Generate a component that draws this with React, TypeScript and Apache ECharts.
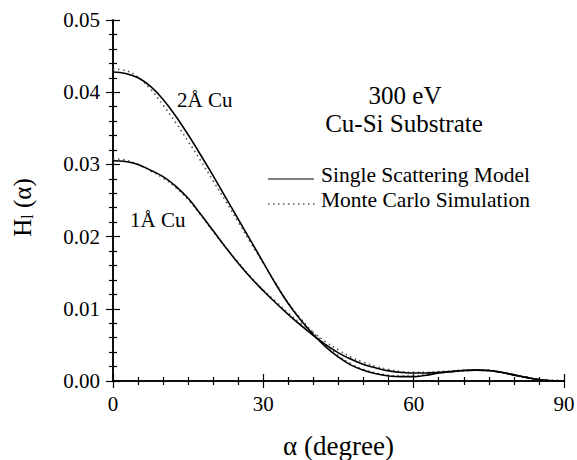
import React, { useEffect, useRef } from "react";
import * as echarts from "echarts";

const angles = [0, 2.5, 5, 7.5, 10, 12.5, 15, 17.5, 20, 22.5, 25, 27.5, 30, 32.5, 35, 37.5, 40, 42.5, 45, 47.5, 50, 52.5, 55, 57.5, 60, 62.5, 65, 67.5, 70, 72.5, 75, 77.5, 80, 82.5, 85, 87.5, 90];

const ss2 = [0.0428, 0.0426, 0.0420, 0.0408, 0.0390, 0.0367, 0.0341, 0.0313, 0.0284, 0.0254, 0.0224, 0.0194, 0.0164, 0.0134, 0.0107, 0.0084, 0.0064, 0.0047, 0.0033, 0.0022, 0.0015, 0.0010, 0.0007, 0.0006, 0.0006, 0.0008, 0.0011, 0.0013, 0.00145, 0.0015, 0.00145, 0.0012, 0.00085, 0.0005, 0.0002, 0.00004, 0];
const mc2 = [0.0432, 0.0430, 0.0421, 0.0404, 0.0382, 0.0358, 0.0332, 0.0305, 0.0277, 0.0249, 0.0220, 0.0191, 0.0163, 0.0135, 0.0108, 0.0086, 0.0067, 0.0050, 0.0035, 0.0024, 0.0016, 0.0011, 0.0008, 0.0007, 0.0007, 0.0009, 0.0011, 0.0013, 0.0014, 0.0015, 0.0014, 0.0012, 0.0008, 0.0005, 0.0002, 0.0001, 0];
const ss1 = [0.0305, 0.0304, 0.0300, 0.0292, 0.0283, 0.0270, 0.0253, 0.0231, 0.0208, 0.0185, 0.0163, 0.0143, 0.0125, 0.0108, 0.0092, 0.0077, 0.0063, 0.0050, 0.0039, 0.0030, 0.0023, 0.0018, 0.0014, 0.0012, 0.0011, 0.0011, 0.0012, 0.0013, 0.00145, 0.0015, 0.00145, 0.0012, 0.00085, 0.0005, 0.0002, 0.00004, 0];
const mc1 = [0.0308, 0.0306, 0.0300, 0.0291, 0.0281, 0.0268, 0.0251, 0.0230, 0.0207, 0.0185, 0.0164, 0.0144, 0.0126, 0.0110, 0.0094, 0.0080, 0.0067, 0.0054, 0.0043, 0.0033, 0.0026, 0.0020, 0.0016, 0.0013, 0.0012, 0.0012, 0.0013, 0.0014, 0.0015, 0.0015, 0.0015, 0.0012, 0.0008, 0.0005, 0.0002, 0.0001, 0];

const xTicks = [0, 30, 60, 90];
const yTicks = [0, 0.01, 0.02, 0.03, 0.04, 0.05];

const SS_NAME = "Single Scattering Model";
const MC_NAME = "Monte Carlo Simulation";
const FONT = "'Liberation Serif', 'Times New Roman', Times, 'DejaVu Serif', serif";

function pairs(ys: number[]) {
  return angles.map((a, i) => [a, ys[i]]);
}

export default function App() {
  const ref = useRef<HTMLDivElement>(null);
  useEffect(() => {
    if (!ref.current) return;
    const chart = echarts.init(ref.current, undefined, { renderer: "svg" });
    const axisLine = { show: true, lineStyle: { color: "#000", width: 1.5 } };
    const tick = { show: true, inside: true, length: 7, lineStyle: { color: "#000", width: 1.2 } };
    const minor = (n: number) => ({ show: true, splitNumber: n, length: 4, lineStyle: { color: "#000", width: 1.2 } });
    const solid = { color: "#000", width: 1.6, type: "solid" as const };
    const dotted = { color: "#555", width: 1.6, type: [1.5, 3.5] as any };
    chart.setOption({
      animation: false,
      backgroundColor: "#fff",
      textStyle: { fontFamily: FONT, color: "#000" },
      grid: { left: 113, right: 13, top: 20, bottom: 79, outerBoundsMode: "none", containLabel: false },
      xAxis: [
        {
          type: "value", min: xTicks[0], max: xTicks[xTicks.length - 1], interval: 30,
          axisLine, axisTick: tick, minorTick: minor(6), splitLine: { show: false },
          axisLabel: { fontFamily: FONT, fontSize: 21, color: "#000", margin: 12 },
          name: "α (degree)", nameLocation: "middle", nameGap: 51,
          nameTextStyle: { fontFamily: FONT, fontSize: 27, color: "#000" },
        },
        {
          type: "value", position: "top", min: 0, max: 90, interval: 30,
          axisLine, axisTick: tick, minorTick: minor(6), splitLine: { show: false },
          axisLabel: { show: false },
        },
      ],
      yAxis: [
        {
          type: "value", min: yTicks[0], max: yTicks[yTicks.length - 1], interval: 0.01,
          axisLine, axisTick: tick, minorTick: minor(5), splitLine: { show: false },
          axisLabel: { fontFamily: FONT, fontSize: 21, color: "#000", margin: 13, formatter: (v: number) => v.toFixed(2) },
          name: "{a|H}{s|l}{a| (α)}", nameLocation: "middle", nameGap: 78,
          nameTextStyle: {
            padding: [0, 14, 0, 0],
            rich: {
              a: { fontFamily: FONT, fontSize: 25, color: "#000" },
              s: { fontFamily: FONT, fontSize: 16, color: "#000", verticalAlign: "bottom", padding: [8, 0, 0, 0] },
            },
          },
        },
        {
          type: "value", position: "right", min: 0, max: 0.05, interval: 0.01,
          axisLine, axisTick: tick, minorTick: minor(5), splitLine: { show: false },
          axisLabel: { show: false },
        },
      ],
      series: [
        { name: SS_NAME, type: "line", smooth: 0.4, symbol: "none", data: pairs(ss2), lineStyle: solid, z: 3 },
        { name: SS_NAME, type: "line", smooth: 0.4, symbol: "none", data: pairs(ss1), lineStyle: solid, z: 3 },
        { name: MC_NAME, type: "line", smooth: 0.4, symbol: "none", data: pairs(mc2), lineStyle: dotted, z: 2 },
        { name: MC_NAME, type: "line", smooth: 0.4, symbol: "none", data: pairs(mc1), lineStyle: dotted, z: 2 },
      ],
      graphic: [
        { type: "text", x: 177, y: 100, style: { text: "2Å Cu", font: `21px ${FONT}`, fill: "#000", verticalAlign: "middle" } },
        { type: "text", x: 130, y: 220, style: { text: "1Å Cu", font: `21px ${FONT}`, fill: "#000", verticalAlign: "middle" } },
        { type: "text", x: 405, y: 95, style: { text: "300 eV", font: `25px ${FONT}`, fill: "#000", align: "center", verticalAlign: "middle" } },
        { type: "text", x: 404, y: 123, style: { text: "Cu-Si Substrate", font: `25px ${FONT}`, fill: "#000", align: "center", verticalAlign: "middle" } },
        { type: "line", shape: { x1: 268, y1: 179, x2: 314, y2: 179 }, style: { stroke: "#000", lineWidth: 1.2 } },
        { type: "text", x: 321, y: 175, style: { text: SS_NAME, font: `21.5px ${FONT}`, fill: "#000", verticalAlign: "middle" } },
        { type: "line", shape: { x1: 268, y1: 204, x2: 318, y2: 204 }, style: { stroke: "#555", lineWidth: 1.4, lineDash: [1.5, 3.5] } },
        { type: "text", x: 321, y: 200, style: { text: MC_NAME, font: `21.5px ${FONT}`, fill: "#000", verticalAlign: "middle" } },
      ],
    });
    return () => chart.dispose();
  }, []);
  return <div ref={ref} style={{ position: "fixed", left: 0, top: 0, width: 577, height: 460 }} />;
}
